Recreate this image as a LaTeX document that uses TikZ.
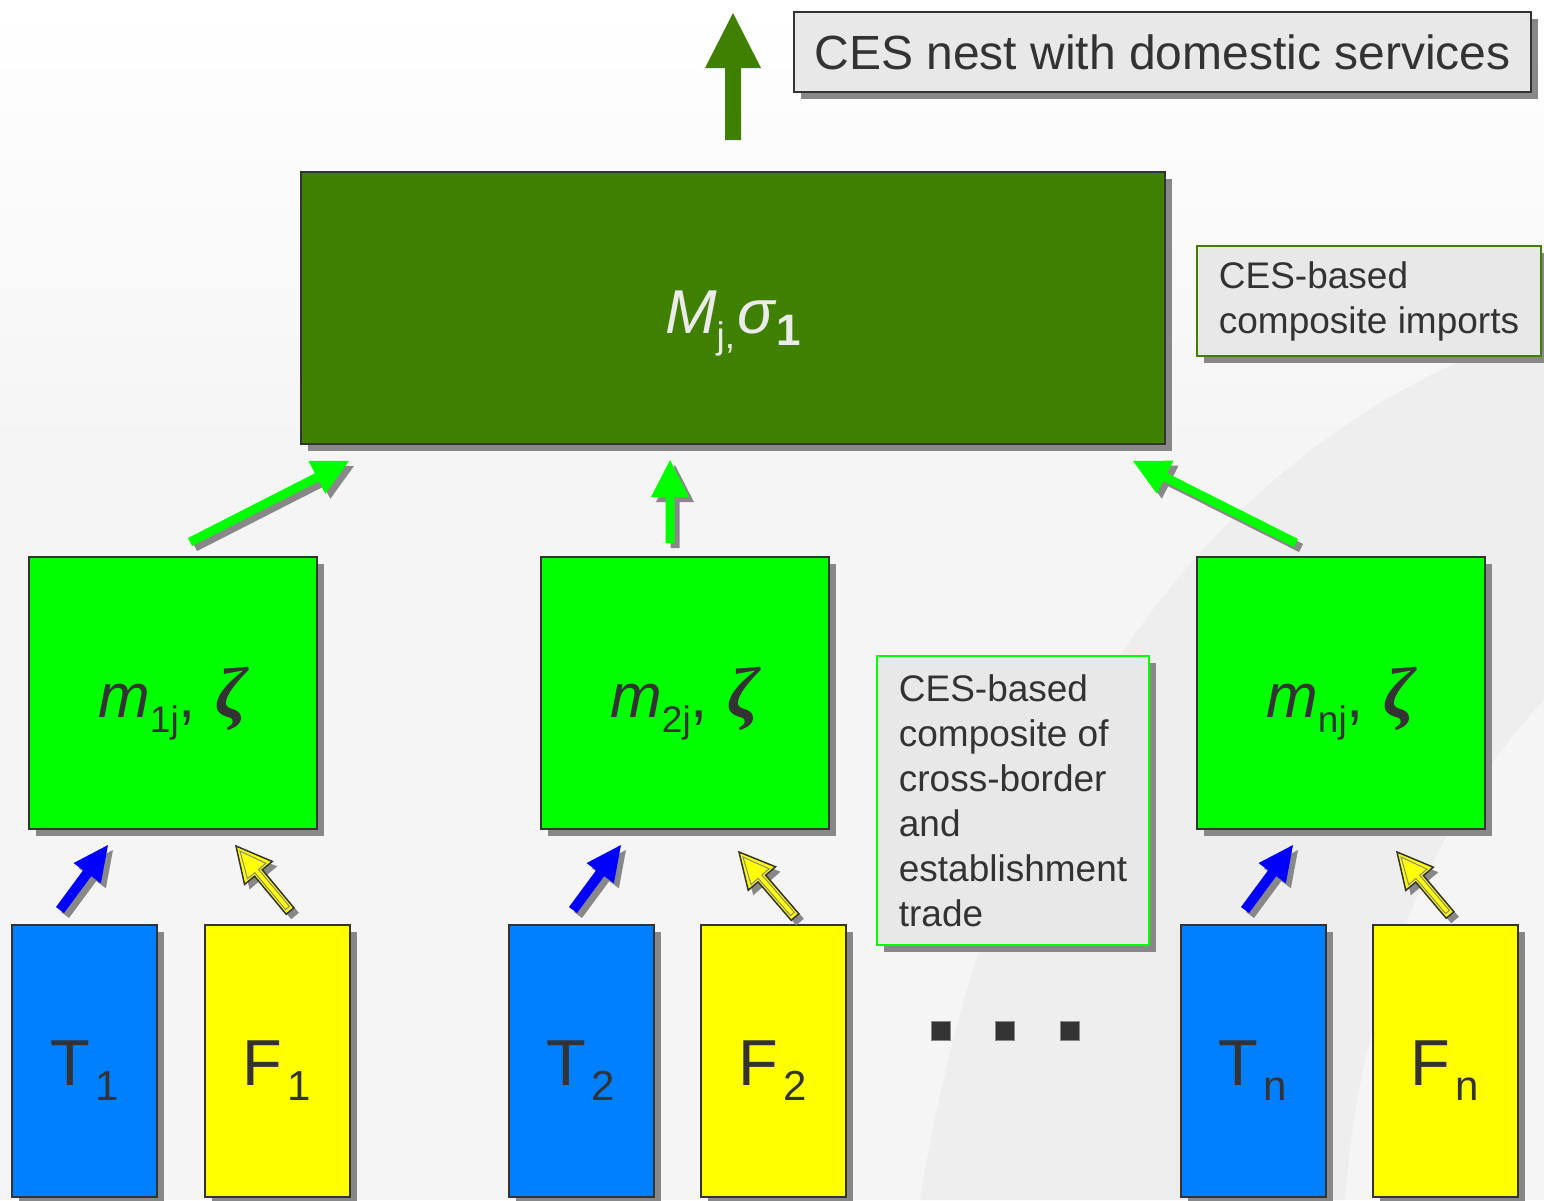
\documentclass[tikz,border=0pt]{standalone}
\usepackage{fontspec}
\setmainfont{Liberation Sans}
\newfontfamily\zfont{Liberation Serif}
\usetikzlibrary{shadows,calc}
\definecolor{dkgreen}{HTML}{408000}
\definecolor{brgreen}{HTML}{00FF00}
\definecolor{boxblue}{HTML}{0080FF}
\definecolor{arrblue}{HTML}{0000FF}
\definecolor{yel}{HTML}{FFFF00}
\definecolor{ink}{HTML}{333333}
\definecolor{notegray}{HTML}{E8E8E8}
\definecolor{shadowgray}{HTML}{888888}
\definecolor{bglight}{HTML}{F5F5F5}
\definecolor{bgdark}{HTML}{EEEEEE}
\definecolor{mtext}{HTML}{EBEBEB}
\tikzset{
  boxshadow/.style={drop shadow={shadow xshift=7pt, shadow yshift=-7pt, opacity=1, fill=shadowgray}},
  arrshadow/.style={drop shadow={shadow xshift=5pt, shadow yshift=-5pt, opacity=1, fill=shadowgray}},
  box/.style={draw=ink, line width=2pt, inner sep=0pt, text=ink, boxshadow},
  note/.style={box, fill=notegray, align=left, font=\fontsize{37}{45}\selectfont},
  bigbox/.style={box, fill=dkgreen, minimum width=864pt, minimum height=272pt, text height=50pt, text depth=0pt, text=mtext, font=\fontsize{62}{62}\selectfont},
  mbox/.style={box, fill=brgreen, minimum width=288pt, minimum height=272pt, text height=48pt, text depth=0pt, font=\fontsize{62}{62}\selectfont},
  tbox/.style={box, fill=boxblue, minimum width=145pt, minimum height=272pt, text height=55pt, text depth=7pt, font=\fontsize{65}{65}\selectfont},
  fbox/.style={tbox, fill=yel},
  dotbox/.style={fill=ink, draw=shadowgray, line width=0.8pt, minimum size=19pt, inner sep=0pt},
  greenarr/.style={fill=brgreen, arrshadow},
  bluearr/.style={fill=arrblue, arrshadow},
  yelarr/.style={fill=yel, draw=ink, line width=1.5pt, arrshadow},
  yelinner/.style={draw=shadowgray, line width=1pt},
  toparr/.style={fill=dkgreen},
}
\newcommand\blockarr[6]{%
  \path[#1] let \p1=(#2), \p2=(#3),
     \n1={atan2(\y2-\y1,\x2-\x1)},
     \n2={veclen(\x2-\x1,\y2-\y1)} in
     [shift={(\p1)}, rotate=\n1]
     (0pt,#4pt) -- ({\n2-#5pt},#4pt) -- ({\n2-#5pt},#6pt) -- ({\n2+0pt},0pt)
     -- ({\n2-#5pt},-#6pt) -- ({\n2-#5pt},-#4pt) -- (0pt,-#4pt) -- cycle;}
\newcommand\mlab[1]{\textit{m}\raisebox{-15pt}{\fontsize{37}{37}\selectfont #1},\hspace{20pt}{\fontsize{72}{72}\selectfont\zfont\bfseries\itshape ζ}}
\newcommand\tlab[2]{#1\raisebox{-15pt}{\fontsize{42}{42}\selectfont\kern5pt #2}}
\begin{document}
\begin{tikzpicture}[x=1pt,y=-1pt]
\useasboundingbox (0,0) rectangle (1544,1200);
% background
\fill[bglight] (0,0) rectangle (1544,1200);
\shade[top color=white, bottom color=bglight] (0,0) rectangle (1544,450);
\fill[bgdark] (1544,330) .. controls (1250,420) and (1000,700) .. (920,1200) -- (1345,1200) .. controls (1360,1000) and (1430,820) .. (1544,700) -- cycle;

% nodes
\node[box, fill=notegray, line width=1.5pt, minimum width=737pt, minimum height=80pt, font=\fontsize{48}{58}\selectfont] (title) at (1162.5,52) {CES nest with domestic services};
\node[bigbox] (M) at (733,308) {\textit{M}\raisebox{-15pt}{\fontsize{37}{37}\selectfont j,}\kern2pt\textit{σ}\raisebox{-12pt}{\fontsize{44}{44}\selectfont\bfseries 1}};
\node[note, draw=dkgreen, minimum width=344pt, minimum height=110pt] (note1) at (1369,301) {CES-based\\composite imports};
\node[mbox] (m1) at (173,693) {\mlab{1j}};
\node[mbox] (m2) at (685,693) {\mlab{2j}};
\node[mbox] (mn) at (1341,693) {\mlab{nj}};
\node[note, draw=brgreen, minimum width=272pt, minimum height=289pt] (note2) at (1013,800.5) {CES-based\\composite of\\cross-border\\and\\establishment\\trade};
\node[tbox] (T1) at (84.5,1061) {\tlab{T}{1}};
\node[fbox] (F1) at (277,1061) {\tlab{F}{1}};
\node[tbox] (T2) at (581,1061) {\tlab{T}{2}};
\node[fbox] (F2) at (773,1061) {\tlab{F}{2}};
\node[tbox] (Tn) at (1253,1061) {\tlab{T}{n}};
\node[fbox] (Fn) at (1445,1061) {\tlab{F}{n}};
\node[dotbox] (d1) at (941,1031) {};
\node[dotbox] (d2) at (1005,1031) {};
\node[dotbox] (d3) at (1070,1031) {};

% arrow end points
\coordinate (ta) at (733,140);  \coordinate (tb) at (733,13);
\coordinate (g1a) at (190,542); \coordinate (g1b) at (349,461);
\coordinate (g2a) at (670,543); \coordinate (g2b) at (670,460);
\coordinate (g3a) at (1296,543); \coordinate (g3b) at (1133,461);
\coordinate (b1a) at (60,910);  \coordinate (b1b) at (108,845);
\coordinate (b2a) at (573,910); \coordinate (b2b) at (621,845);
\coordinate (b3a) at (1245,910); \coordinate (b3b) at (1293,845);
\coordinate (y1a) at (290,911); \coordinate (y1b) at (236,846);
\coordinate (y2a) at (795,917); \coordinate (y2b) at (739,852);
\coordinate (y3a) at (1450,915); \coordinate (y3b) at (1397,852);
\coordinate (y1c) at (287.5,908); \coordinate (y1d) at (240,851);
\coordinate (y2c) at (792.5,914); \coordinate (y2d) at (743,857);
\coordinate (y3c) at (1447.5,912); \coordinate (y3d) at (1401,857);

% arrows
\blockarr{toparr}{ta}{tb}{8}{55}{28}
\blockarr{greenarr}{g1a}{g1b}{4.5}{36}{18.5}
\blockarr{greenarr}{g2a}{g2b}{4.5}{37}{19}
\blockarr{greenarr}{g3a}{g3b}{4.5}{36}{18.5}
\blockarr{bluearr}{b1a}{b1b}{5}{35}{17}
\blockarr{bluearr}{b2a}{b2b}{5}{35}{17}
\blockarr{bluearr}{b3a}{b3b}{5}{35}{17}
\blockarr{yelarr}{y1a}{y1b}{5}{35}{18}
\blockarr{yelarr}{y2a}{y2b}{5}{35}{18}
\blockarr{yelarr}{y3a}{y3b}{5}{35}{18}
\blockarr{yelinner}{y1c}{y1d}{2.5}{26}{12}
\blockarr{yelinner}{y2c}{y2d}{2.5}{26}{12}
\blockarr{yelinner}{y3c}{y3d}{2.5}{26}{12}
\end{tikzpicture}
\end{document}
